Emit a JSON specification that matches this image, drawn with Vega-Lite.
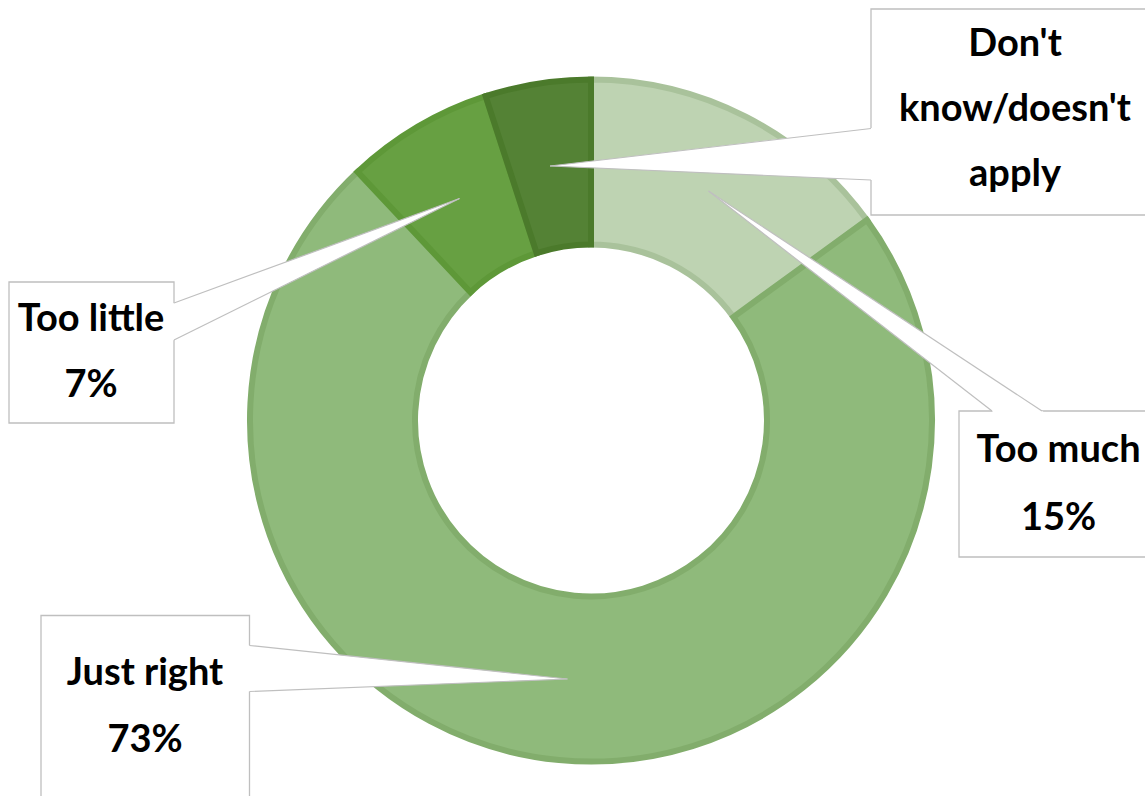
{
  "$schema": "https://vega.github.io/schema/vega-lite/v6.json",
  "width": 1145,
  "height": 796,
  "padding": 0,
  "autosize": "none",
  "background": "white",
  "config": {"view": {"stroke": null}},
  "data": {"values": [
    {"category": "Too much", "pct": 15, "rank": 1},
    {"category": "Just right", "pct": 73, "rank": 2},
    {"category": "Too little", "pct": 7, "rank": 3},
    {"category": "Don't know/doesn't apply", "pct": 5, "rank": 4}
  ]},
  "transform": [{"calculate": "datum.category + '\\n' + datum.pct + '%'", "as": "label"}],
  "layer": [
    {
      "mark": {"type": "arc", "radius": 341, "radius2": 176, "strokeWidth": 6},
      "encoding": {
        "x": {"datum": 0, "type": "quantitative", "scale": {"domain": [-591, 554], "nice": false, "zero": false}, "axis": null},
        "y": {"datum": 0, "type": "quantitative", "scale": {"domain": [-375.5, 420.5], "nice": false, "zero": false}, "axis": null},
        "theta": {"field": "pct", "type": "quantitative"},
        "order": {"field": "rank", "type": "quantitative"},
        "color": {"field": "category", "type": "nominal", "legend": null,
          "scale": {"domain": ["Too much", "Just right", "Too little", "Don't know/doesn't apply"], "range": ["#bed3b2", "#8fba7b", "#67a042", "#548235"]}},
        "stroke": {"field": "category", "type": "nominal", "legend": null,
          "scale": {"domain": ["Too much", "Just right", "Too little", "Don't know/doesn't apply"], "range": ["#a9c29b", "#82ad6c", "#5e9838", "#4b7a2b"]}}
      }
    },
    {
      "transform": [{"filter": "datum.category === 'Too much'"}],
      "layer": [
        {"mark": {"type": "rect", "fill": "white", "stroke": "#bfbfbf", "strokeWidth": 1.3},
         "encoding": {"x": {"datum": 368}, "x2": {"datum": 569}, "y": {"datum": 9.5}, "y2": {"datum": -136.5}}},
        {"mark": {"type": "arc", "fill": "white", "theta": 2.1541, "theta2": 2.2307, "radius": 406},
         "encoding": {"x": {"datum": 117.5}, "y": {"datum": 229.5}}},
        {"mark": {"type": "rule", "stroke": "#bfbfbf", "strokeWidth": 1.2},
         "encoding": {"x": {"datum": 117.5}, "y": {"datum": 229.5}, "x2": {"datum": 401}, "y2": {"datum": 9.5}}},
        {"mark": {"type": "rule", "stroke": "#bfbfbf", "strokeWidth": 1.2},
         "encoding": {"x": {"datum": 117.5}, "y": {"datum": 229.5}, "x2": {"datum": 451}, "y2": {"datum": 9.5}}},
        {"mark": {"type": "text", "font": "Lato", "fontSize": 38, "fontWeight": "bold", "lineBreak": "\n", "lineHeight": 68, "align": "center", "baseline": "alphabetic", "color": "black"},
         "encoding": {"x": {"datum": 467.5}, "y": {"datum": -41.5}, "text": {"field": "label"}}}
      ]
    },
    {
      "transform": [{"filter": "datum.category === 'Just right'"}],
      "layer": [
        {"mark": {"type": "rect", "fill": "white", "stroke": "#bfbfbf", "strokeWidth": 1.3},
         "encoding": {"x": {"datum": -550}, "x2": {"datum": -341.5}, "y": {"datum": -195}, "y2": {"datum": -385}}},
        {"mark": {"type": "arc", "fill": "white", "theta": 4.6731, "theta2": 4.8174, "radius": 326},
         "encoding": {"x": {"datum": -23.5}, "y": {"datum": -258.5}}},
        {"mark": {"type": "rule", "stroke": "#bfbfbf", "strokeWidth": 1.2},
         "encoding": {"x": {"datum": -23.5}, "y": {"datum": -258.5}, "x2": {"datum": -341.5}, "y2": {"datum": -225}}},
        {"mark": {"type": "rule", "stroke": "#bfbfbf", "strokeWidth": 1.2},
         "encoding": {"x": {"datum": -23.5}, "y": {"datum": -258.5}, "x2": {"datum": -341.5}, "y2": {"datum": -271}}},
        {"mark": {"type": "text", "font": "Lato", "fontSize": 38, "fontWeight": "bold", "lineBreak": "\n", "lineHeight": 67, "align": "center", "baseline": "alphabetic", "color": "black"},
         "encoding": {"x": {"datum": -446}, "y": {"datum": -264.5}, "text": {"field": "label"}}}
      ]
    },
    {
      "transform": [{"filter": "datum.category === 'Too little'"}],
      "layer": [
        {"mark": {"type": "rect", "fill": "white", "stroke": "#bfbfbf", "strokeWidth": 1.3},
         "encoding": {"x": {"datum": -582}, "x2": {"datum": -417}, "y": {"datum": 138.5}, "y2": {"datum": -2.5}}},
        {"mark": {"type": "arc", "fill": "white", "theta": 4.2525, "theta2": 4.3616, "radius": 325},
         "encoding": {"x": {"datum": -131.5}, "y": {"datum": 222}}},
        {"mark": {"type": "rule", "stroke": "#bfbfbf", "strokeWidth": 1.2},
         "encoding": {"x": {"datum": -131.5}, "y": {"datum": 222}, "x2": {"datum": -417}, "y2": {"datum": 117.5}}},
        {"mark": {"type": "rule", "stroke": "#bfbfbf", "strokeWidth": 1.2},
         "encoding": {"x": {"datum": -131.5}, "y": {"datum": 222}, "x2": {"datum": -417}, "y2": {"datum": 80.5}}},
        {"mark": {"type": "text", "font": "Lato", "fontSize": 38, "fontWeight": "bold", "lineBreak": "\n", "lineHeight": 66.5, "align": "center", "baseline": "alphabetic", "color": "black"},
         "encoding": {"x": {"datum": -500}, "y": {"datum": 90}, "text": {"field": "label"}}}
      ]
    },
    {
      "transform": [{"filter": "datum.category === \"Don't know/doesn't apply\""}],
      "layer": [
        {"mark": {"type": "rect", "fill": "white", "stroke": "#bfbfbf", "strokeWidth": 1.3},
         "encoding": {"x": {"datum": 280}, "x2": {"datum": 569}, "y": {"datum": 411.5}, "y2": {"datum": 205.5}}},
        {"mark": {"type": "arc", "fill": "white", "theta": 1.453, "theta2": 1.614, "radius": 328},
         "encoding": {"x": {"datum": -41}, "y": {"datum": 254.5}}},
        {"mark": {"type": "rule", "stroke": "#bfbfbf", "strokeWidth": 1.2},
         "encoding": {"x": {"datum": -41}, "y": {"datum": 254.5}, "x2": {"datum": 280}, "y2": {"datum": 292}}},
        {"mark": {"type": "rule", "stroke": "#bfbfbf", "strokeWidth": 1.2},
         "encoding": {"x": {"datum": -41}, "y": {"datum": 254.5}, "x2": {"datum": 280}, "y2": {"datum": 240.5}}},
        {"mark": {"type": "text", "font": "Lato", "fontSize": 38, "fontWeight": "bold", "lineBreak": " ", "lineHeight": 65, "align": "center", "baseline": "alphabetic", "color": "black"},
         "encoding": {"x": {"datum": 424}, "y": {"datum": 364.5}, "text": {"field": "category"}}}
      ]
    }
  ]
}
